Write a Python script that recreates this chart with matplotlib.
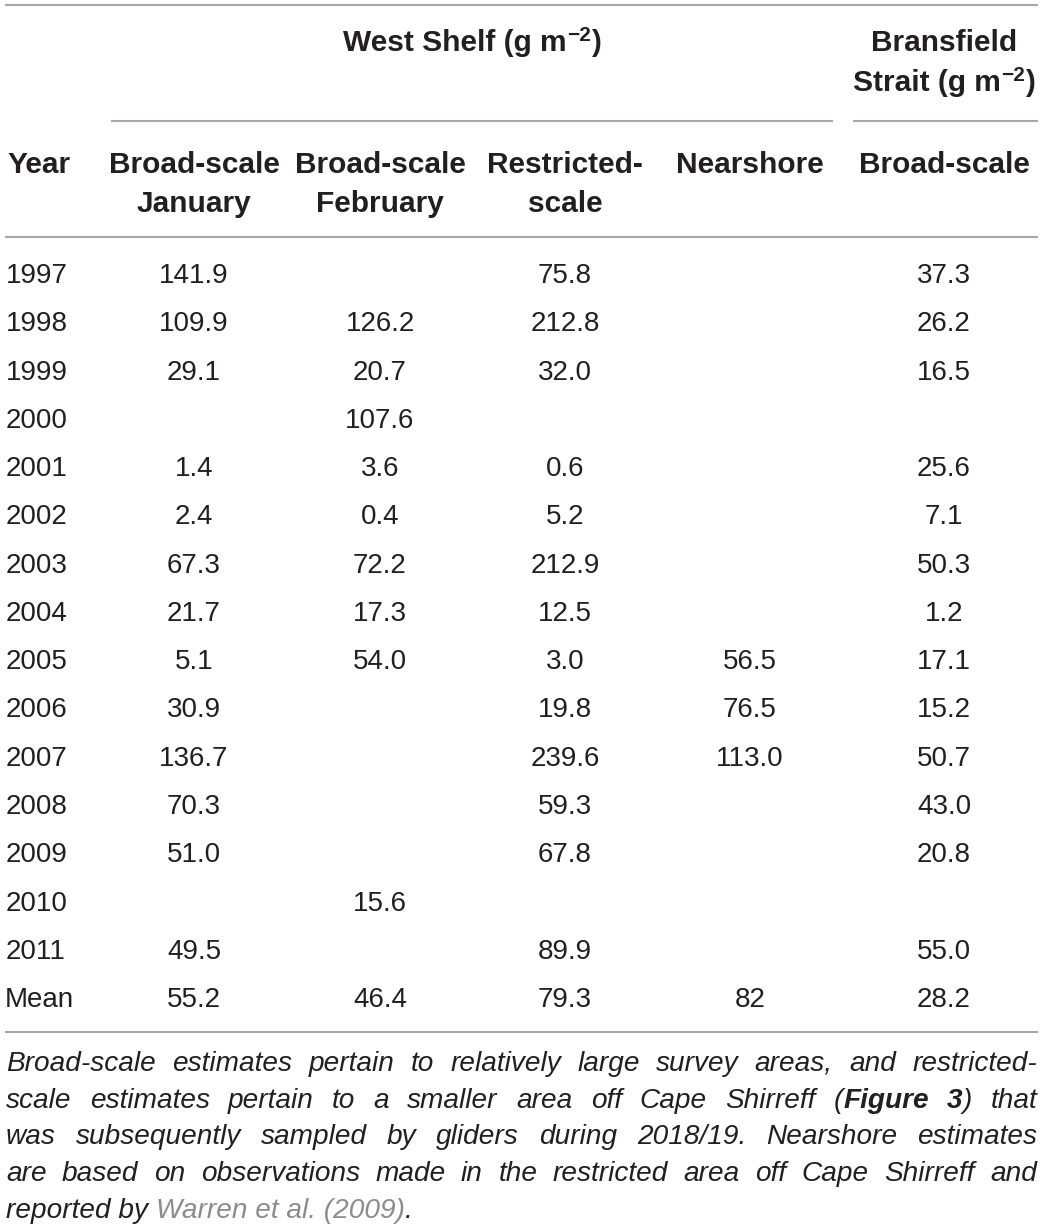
import matplotlib
matplotlib.use('Agg')
import matplotlib.pyplot as plt

years = ['1997', '1998', '1999', '2000', '2001', '2002', '2003', '2004',
         '2005', '2006', '2007', '2008', '2009', '2010', '2011']
jan = [141.9, 109.9, 29.1, None, 1.4, 2.4, 67.3, 21.7, 5.1, 30.9, 136.7, 70.3, 51.0, None, 49.5]
feb = [None, 126.2, 20.7, 107.6, 3.6, 0.4, 72.2, 17.3, 54.0, None, None, None, None, 15.6, None]
restricted = [75.8, 212.8, 32.0, None, 0.6, 5.2, 212.9, 12.5, 3.0, 19.8, 239.6, 59.3, 67.8, None, 89.9]
nearshore = [None, None, None, None, None, None, None, None, 56.5, 76.5, 113.0, None, None, None, None]
bransfield = [37.3, 26.2, 16.5, None, 25.6, 7.1, 50.3, 1.2, 17.1, 15.2, 50.7, 43.0, 20.8, None, 55.0]
means = ['55.2', '46.4', '79.3', '82', '28.2']
col_heads = [['Broad-scale', 'January'], ['Broad-scale', 'February'],
             ['Restricted-', 'scale'], ['Nearshore'], ['Broad-scale']]

note_lines = [
    [[('Broad-scale', 'i')], [('estimates', 'i')], [('pertain', 'i')], [('to', 'i')],
     [('relatively', 'i')], [('large', 'i')], [('survey', 'i')], [('areas,', 'i')],
     [('and', 'i')], [('restricted-', 'i')]],
    [[('scale', 'i')], [('estimates', 'i')], [('pertain', 'i')], [('to', 'i')], [('a', 'i')],
     [('smaller', 'i')], [('area', 'i')], [('off', 'i')], [('Cape', 'i')], [('Shirreff', 'i')],
     [('(', 'i'), ('Figure', 'bi')], [('3', 'bi'), (')', 'i')], [('that', 'i')]],
    [[(w, 'i')] for w in 'was subsequently sampled by gliders during 2018/19. Nearshore estimates'.split()],
    [[(w, 'i')] for w in 'are based on observations made in the restricted area off Cape Shirreff and'.split()],
]
last_line = [('reported by ', 'i'), ('Warren et al. (2009)', 'g'), ('.', 'i')]

FONT = 'Liberation Sans'
INK = '#231f20'
RULE = '#a8a8a8'
W, H = 1041, 1231

fig = plt.figure(figsize=(W / 100, H / 100), dpi=100)
ax = fig.add_axes([0, 0, 1, 1])
ax.set_xlim(0, W)
ax.set_ylim(H, 0)
ax.axis('off')
renderer = fig.canvas.get_renderer()

styles = {
    'i': dict(style='italic', color=INK),
    'bi': dict(style='italic', weight='bold', color=INK),
    'g': dict(style='italic', color='#8c8c8c'),
}


def txt(x, y, s, size=20, **kw):
    return ax.text(x, y, s, fontsize=size, family=FONT, va='baseline', **kw)


def width(s, size=20, **kw):
    t = txt(0, 0, s, size, **kw)
    w = t.get_window_extent(renderer).width
    t.remove()
    return w


def run(x, y, segs, ha='left'):
    # segs: (text, size, dy, props)
    ws = [width(s, sz, **p) for s, sz, dy, p in segs]
    if ha == 'center':
        x = x - sum(ws) / 2
    for (s, sz, dy, p), w in zip(segs, ws):
        txt(x, y - dy, s, sz, **p)
        x += w


# rules
def hline(x0, x1, y):
    ax.plot([x0, x1], [y, y], color=RULE, lw=1.5, solid_capstyle='butt')


hline(5, 1038, 5)
hline(111, 833, 121)
hline(853, 1038, 121)
hline(5, 1038, 237)
hline(5, 1038, 1032)

# header
HS = 21.5
bold = dict(weight='bold', color=INK)
run(472, 51, [('West Shelf (g m', HS, 0, bold), ('\u22122', 15, 10, bold), (')', HS, 0, bold)], ha='center')
txt(944, 51, 'Bransfield', HS, ha='center', **bold)
run(944, 91, [('Strait (g m', HS, 0, bold), ('\u22122', 15, 10, bold), (')', HS, 0, bold)], ha='center')
txt(7, 173, 'Year', HS, **bold)

col_x = [194, 380, 565, 750, 944]
for cx, lines in zip(col_x, col_heads):
    for k, s in enumerate(lines):
        txt(cx, 173 + 39 * k, s, HS, ha='center', **bold)

# body
row0, step = 283, 48.27
for i, yr in enumerate(years):
    y = row0 + i * step
    txt(6, y, yr, color=INK)
    for cx, col in zip(col_x, [jan, feb, restricted, nearshore, bransfield]):
        v = col[i]
        if v is not None:
            txt(cx, y, f'{v:.1f}', ha='center', color=INK)
ym = row0 + len(years) * step
txt(5, ym, 'Mean', color=INK)
for cx, m in zip(col_x, means):
    txt(cx, ym, m, ha='center', color=INK)

# footnote, justified
NS = 20.2
left, right = 6, 1037
base, lstep = 1071, 36.7
for k, words in enumerate(note_lines):
    ww = [sum(width(s, NS, **styles[st]) for s, st in word) for word in words]
    gap = (right - left - sum(ww)) / (len(words) - 1)
    x = left
    y = base + k * lstep
    for word, w in zip(words, ww):
        xx = x
        for s, st in word:
            txt(xx, y, s, NS, **styles[st])
            xx += width(s, NS, **styles[st])
        x += w + gap
run(left, base + 4 * lstep, [(s, NS, 0, styles[st]) for s, st in last_line])

fig.savefig('out.png', dpi=100, facecolor='white')
